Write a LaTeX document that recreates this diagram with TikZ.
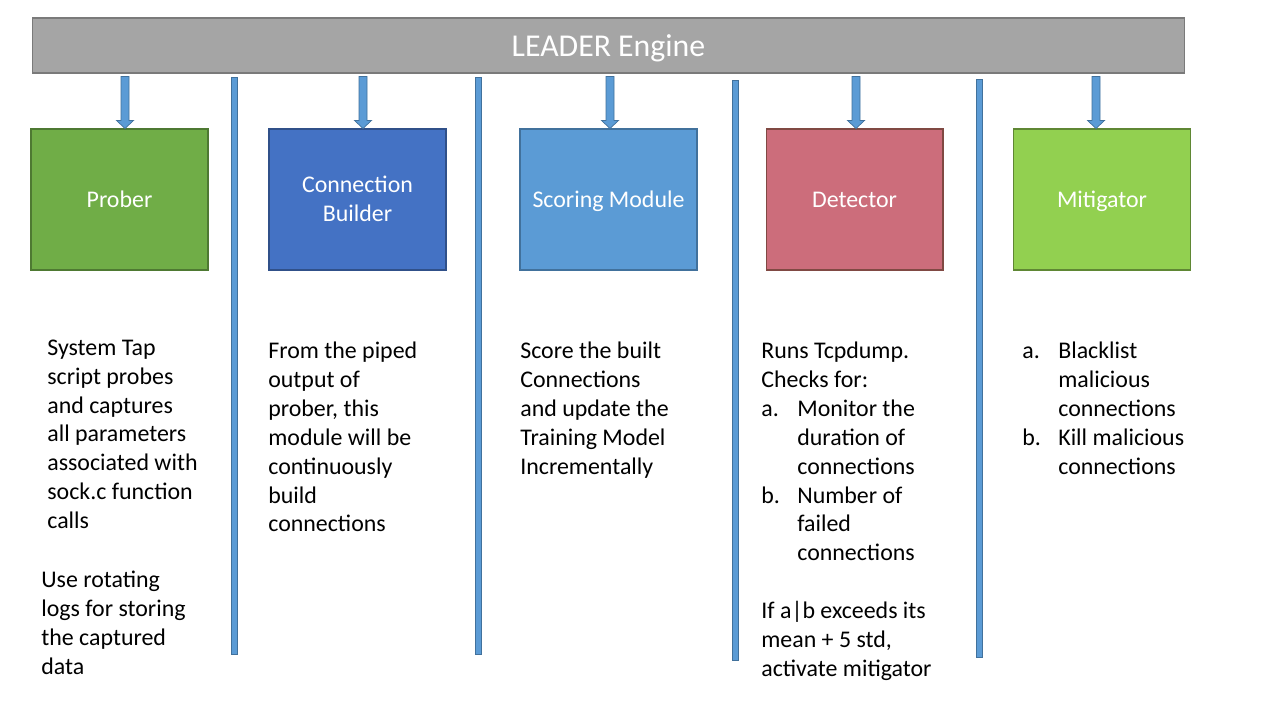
\documentclass[tikz,border=0pt]{standalone}
\usepackage{fontspec}
\setmainfont{Carlito}
\usepackage{tikz}
\usetikzlibrary{calc,positioning}
\definecolor{bargray}{HTML}{A5A5A5}
\definecolor{barline}{HTML}{7A7A7A}
\definecolor{sepblue}{HTML}{5B9BD5}
\definecolor{sepline}{HTML}{41719C}
\definecolor{probergreen}{HTML}{70AD47}
\definecolor{builderblue}{HTML}{4472C4}
\definecolor{detectorred}{HTML}{CC6D7B}
\definecolor{mitigatorgreen}{HTML}{92D050}
\newcommand\bodyfont{\fontsize{13.6}{16.44}\selectfont}
\newcommand\titlefont{\fontsize{18.1}{21.7}\selectfont}
\newcommand\boxstrut{\rule[-3.8pt]{0pt}{16.44pt}}
\newcommand\titlestrut{\rule[-4.8pt]{0pt}{21.7pt}}

\begin{document}
\begin{tikzpicture}[x=0.02cm,y=-0.02cm,
  modbox/.style={draw=#1, line width=0.6pt, minimum width=3.54cm, minimum height=2.82cm,
    inner sep=0pt, text=white, font=\bodyfont, align=center},
  notes/.style={anchor=north west, inner sep=0pt, align=left, font=\bodyfont},
  blockarrow/.style={fill=sepblue, draw=sepline, line width=0.4pt},
  sepbar/.style={fill=sepblue, draw=sepline, line width=0.4pt}]
\useasboundingbox[fill=white] (0,0) rectangle (1280,720);

% engine bar
\node[fill=bargray, draw=barline, line width=0.6pt, minimum width=23.06cm, minimum height=1.1cm,
  inner sep=0pt, text=white, font=\titlefont] (bar) at (608.5,45.5) {\titlestrut LEADER Engine};

% modules
\node[modbox=probergreen!70!black, fill=probergreen] (prober) at (119.5,199.5) {\boxstrut Prober};
\node[modbox=builderblue!70!black, fill=builderblue] (builder) at (357.5,199.5) {\boxstrut Connection\\\boxstrut Builder};
\node[modbox=sepline, fill=sepblue] (scoring) at (608.5,199.5) {\boxstrut Scoring Module};
\node[modbox=detectorred!55!black!80!brown, fill=detectorred] (detector) at (854.5,199.5) {\boxstrut Detector};
\node[modbox=mitigatorgreen!65!black, fill=mitigatorgreen] (mitigator) at (1102,199.5) {\boxstrut Mitigator};

% arrows from the engine
\foreach \m/\dx in {prober/5.5, builder/5.5, scoring/1.5, detector/1.5, mitigator/-6} {
  \coordinate (t) at ($(bar.south -| \m.north)+(\dx,3)$);
  \coordinate (h) at ($(\m.north)+(\dx,0)$);
  \draw[blockarrow] ($(t)+(-4,0)$) -- ($(h)+(-4,-8)$) -- ($(h)+(-8.5,-8)$) -- (h)
    -- ($(h)+(8.5,-8)$) -- ($(h)+(4,-8)$) -- ($(t)+(4,0)$) -- cycle;
}

% separators
\foreach \x/\ya/\yb in {234/77/654, 478/77/654, 735/80/660, 979/79/657}
  \draw[sepbar] ({\x-3},\ya) rectangle ({\x+3},\yb);

% descriptions
\node[notes] (probertxt) at (47,334.7) {\strut System Tap\\script probes\\and captures\\all parameters\\associated with\\sock.c function\\calls};
\node[notes] (probertxt2) at (41,567) {\strut Use rotating\\logs for storing\\the captured\\data};
\node[notes] (buildertxt) at (268,338) {\strut From the piped\\output of\\prober, this\\module will be\\continuously\\build\\connections};
\node[notes] (scoringtxt) at (520,338) {\strut Score the built\\Connections\\and update the\\Training Model\\Incrementally};
\node[notes] (detectortxt) at (761,338) {\strut Runs Tcpdump.\\Checks for:\\
  \makebox[0.72cm][l]{a.}Monitor the\\\hspace*{0.72cm}duration of\\\hspace*{0.72cm}connections\\
  \makebox[0.72cm][l]{b.}Number of\\\hspace*{0.72cm}failed\\\hspace*{0.72cm}connections\\[16.44pt]
  If a|b exceeds its\\mean + 5 std,\\activate mitigator};
\node[notes] (mitigatortxt) at (1022,338) {\strut\makebox[0.72cm][l]{a.}Blacklist\\\hspace*{0.72cm}malicious\\\hspace*{0.72cm}connections\\
  \makebox[0.72cm][l]{b.}Kill malicious\\\hspace*{0.72cm}connections};
\end{tikzpicture}
\end{document}
